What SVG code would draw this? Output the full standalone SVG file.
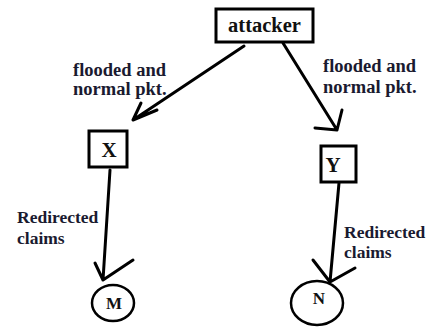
<svg xmlns="http://www.w3.org/2000/svg" width="432" height="329" viewBox="0 0 432 329">
  <style>
    .box { fill: #fff; stroke: #000; stroke-width: 3; }
    .node { fill: #fff; stroke: #000; stroke-width: 2.5; }
    .edge { fill: none; stroke: #000; stroke-width: 3; stroke-linecap: round; stroke-linejoin: round; }
    text { font-family: "Liberation Serif", "Times New Roman", serif; font-weight: bold; }
    .lbl { fill: #1a1a30; font-size: 18.5px; }
    .lbl2 { fill: #1a1a30; font-size: 17.5px; }
    .name { text-anchor: middle; fill: #111; }
  </style>
  <rect width="432" height="329" fill="#fff"/>

  <g id="edges">
    <!-- attacker to X -->
    <path class="edge" d="M244 46 L133 120 M133 120 L141 103 M133 120 L157 110"/>
    <!-- attacker to Y -->
    <path class="edge" d="M283 43 L337 130 M337 130 L342 110 M337 130 L315 128"/>
    <!-- X to M -->
    <path class="edge" d="M110 170 L103 280 M103 280 L95 263 M103 280 L133 260"/>
    <!-- Y to N -->
    <path class="edge" d="M339 183 L330 282 M330 282 L313 260 M330 282 L355 268"/>
  </g>

  <g id="edge-labels">
    <text class="lbl" x="73" y="76">flooded and</text>
    <text class="lbl" x="73" y="95">normal pkt.</text>
    <text class="lbl" x="323" y="72">flooded and</text>
    <text class="lbl" x="323" y="93">normal pkt.</text>
    <text class="lbl2" x="17" y="223">Redirected</text>
    <text class="lbl2" x="17" y="244">claims</text>
    <text class="lbl2" x="344" y="238">Redirected</text>
    <text class="lbl2" x="344" y="258">claims</text>
  </g>

  <g id="attacker">
    <rect class="box" x="216" y="9" width="97" height="33"/>
    <text class="name" x="264.5" y="32" font-size="20.5">attacker</text>
  </g>

  <g id="X">
    <rect class="box" x="89" y="131" width="38" height="36"/>
    <text class="name" x="109" y="157" font-size="21">X</text>
  </g>

  <g id="Y">
    <rect class="box" x="321" y="146" width="35" height="36"/>
    <text class="name" x="333" y="172" font-size="21">Y</text>
  </g>

  <g id="M">
    <ellipse class="node" cx="113" cy="303" rx="21" ry="18"/>
    <text class="name" x="114" y="309" font-size="17">M</text>
  </g>

  <g id="N">
    <ellipse class="node" cx="317" cy="303" rx="26" ry="22"/>
    <text class="name" x="319" y="304" font-size="17">N</text>
  </g>
</svg>
